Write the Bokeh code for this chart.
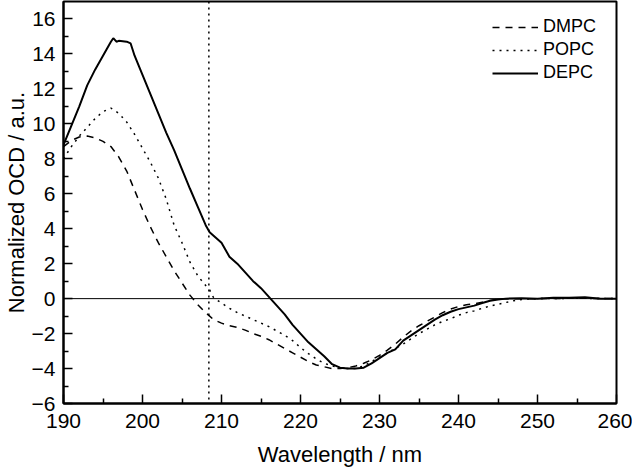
from bokeh.plotting import figure
from bokeh.models import Range1d, Span, Legend, LegendItem, FixedTicker
from bokeh.embed import file_html
from bokeh.resources import INLINE

# ---- data ----
dmpc_wl = [190, 191, 192, 193, 194, 195, 196, 197, 198, 199, 200, 201, 202, 203, 204, 205, 206, 207, 208, 208.5,
           209, 210, 211, 212, 213, 214, 215, 216, 217, 218, 219, 220, 221, 222, 223, 224, 225, 226, 227, 228,
           229, 230, 231, 232, 233, 234, 235, 236, 237, 238, 239, 240, 241, 242, 243, 244, 245, 246, 250, 255, 260]
dmpc_val = [8.7, 9.05, 9.25, 9.3, 9.2, 9.0, 8.7, 8.1, 7.3, 6.2, 5.1, 4.1, 3.2, 2.4, 1.6, 0.9, 0.2, -0.35, -0.8, -1.0,
            -1.2, -1.4, -1.55, -1.65, -1.8, -2.0, -2.15, -2.35, -2.6, -2.85, -3.1, -3.35, -3.6, -3.8, -3.9, -4.0, -4.0, -3.95, -3.85, -3.7,
            -3.5, -3.25, -2.95, -2.6, -2.2, -1.85, -1.55, -1.3, -1.05, -0.8, -0.6, -0.45, -0.35, -0.3, -0.2, -0.1, -0.03, 0.0, 0.0, 0.02, 0.0]

popc_wl = [190, 191, 192, 193, 194, 195, 196, 197, 198, 199, 200, 201, 202, 203, 204, 205, 206, 207, 208, 208.5,
           209, 210, 211, 212, 213, 214, 215, 216, 217, 218, 219, 220, 221, 222, 223, 224, 225, 226, 227, 228,
           229, 230, 231, 232, 233, 234, 235, 236, 237, 238, 239, 240, 241, 242, 243, 244, 245, 246, 247, 248,
           249, 250, 255, 260]
popc_val = [8.0, 8.7, 9.3, 9.8, 10.3, 10.7, 10.9, 10.6, 10.1, 9.4, 8.6, 7.8, 6.9, 5.7, 4.2, 3.2, 2.1, 1.3, 0.75, 0.5,
            0.05, -0.25, -0.55, -0.8, -1.0, -1.2, -1.4, -1.6, -1.85, -2.1, -2.4, -2.8, -3.15, -3.45, -3.7, -3.85, -3.95, -4.0, -4.0, -3.85,
            -3.6, -3.35, -3.1, -2.85, -2.6, -2.3, -2.0, -1.75, -1.5, -1.3, -1.15, -0.95, -0.8, -0.7, -0.55, -0.42, -0.32, -0.22, -0.12, -0.05,
            0.0, 0.0, 0.02, 0.0]

depc_wl = [190, 191, 192, 193, 194, 195, 196, 196.3, 196.7, 197, 198, 198.5, 199, 200, 201, 202, 203, 204, 205, 206,
           207, 208, 208.5, 209, 210, 211, 212, 213, 214, 215, 216, 217, 218, 219, 220, 221, 222, 223, 224, 225,
           226, 227, 228, 229, 230, 231, 232, 233, 234, 235, 236, 237, 238, 239, 240, 241, 242, 243, 244, 245,
           246, 248, 250, 252, 254, 256, 258, 260]
depc_val = [8.8, 9.9, 11.0, 12.2, 13.1, 13.9, 14.7, 14.9, 14.7, 14.75, 14.7, 14.6, 13.9, 12.8, 11.7, 10.6, 9.5, 8.5, 7.4, 6.3,
            5.25, 4.2, 3.8, 3.6, 3.2, 2.4, 2.0, 1.5, 1.0, 0.6, 0.1, -0.4, -0.9, -1.5, -2.0, -2.5, -2.9, -3.3, -3.75, -3.95,
            -4.0, -4.0, -3.95, -3.7, -3.4, -3.1, -2.9, -2.4, -2.1, -1.8, -1.5, -1.2, -0.95, -0.75, -0.6, -0.5, -0.4, -0.25, -0.12, -0.05,
            0.0, 0.02, 0.0, 0.05, 0.05, 0.08, 0.0, 0.0]

x_ticks = [190, 200, 210, 220, 230, 240, 250, 260]
x_minor = [195, 205, 215, 225, 235, 245, 255]
y_ticks = [-6, -4, -2, 0, 2, 4, 6, 8, 10, 12, 14, 16]
y_minor = [-5, -3, -1, 1, 3, 5, 7, 9, 11, 13, 15]
marker_wl = 208.4

FONT = "Liberation Sans"

p = figure(width=632, height=469, output_backend="svg", toolbar_location=None,
           x_range=Range1d(190, 260), y_range=Range1d(-6, 17),
           min_border_left=63, min_border_right=16, min_border_top=1, min_border_bottom=64)
p.background_fill_color = "white"
p.border_fill_color = "white"
p.xgrid.visible = False
p.ygrid.visible = False
p.outline_line_color = "black"
p.outline_line_width = 2

for ax in (p.xaxis[0], p.yaxis[0]):
    ax.axis_line_width = 2
    ax.axis_line_color = "black"
    ax.major_tick_in = 9
    ax.major_tick_out = 0
    ax.minor_tick_in = 5
    ax.minor_tick_out = 0
    ax.major_tick_line_width = 1.5
    ax.minor_tick_line_width = 1.5
    ax.major_label_text_font = FONT
    ax.major_label_text_font_size = "21px"
    ax.major_label_text_color = "black"
    ax.major_label_text_line_height = 1.0
    ax.axis_label_text_font = FONT
    ax.axis_label_text_font_size = "22px"
    ax.axis_label_text_font_style = "normal"
    ax.axis_label_text_color = "black"
    ax.axis_label_text_line_height = 1.0

p.xaxis[0].ticker = FixedTicker(ticks=x_ticks, minor_ticks=x_minor)
p.yaxis[0].ticker = FixedTicker(ticks=y_ticks, minor_ticks=y_minor)
p.xaxis[0].axis_label = "Wavelength / nm"
p.yaxis[0].axis_label = "Normalized OCD / a.u."
p.xaxis[0].major_label_standoff = 10
p.xaxis[0].axis_label_standoff = 11
p.yaxis[0].major_label_standoff = 8
p.yaxis[0].axis_label_standoff = 0

p.add_layout(Span(location=0, dimension="width", line_color="black", line_width=1))
p.add_layout(Span(location=marker_wl, dimension="height", line_color="black", line_width=1.5, line_dash="2 4"))

r_dmpc = p.line(dmpc_wl, dmpc_val, line_color="black", line_width=1.5, line_dash="7 6")
r_popc = p.line(popc_wl, popc_val, line_color="black", line_width=1.5, line_dash="2 5")
r_depc = p.line(depc_wl, depc_val, line_color="black", line_width=2)

legend = Legend(items=[LegendItem(label="DMPC", renderers=[r_dmpc]),
                       LegendItem(label="POPC", renderers=[r_popc]),
                       LegendItem(label="DEPC", renderers=[r_depc])],
                location="top_right", margin=15, padding=0, spacing=2,
                glyph_width=46, glyph_height=20, label_height=20, label_width=58, label_standoff=5,
                label_text_font=FONT, label_text_font_size="18px", label_text_color="black",
                border_line_color=None, background_fill_alpha=0)
p.add_layout(legend)

open("out.html", "w").write(file_html(p, INLINE))
